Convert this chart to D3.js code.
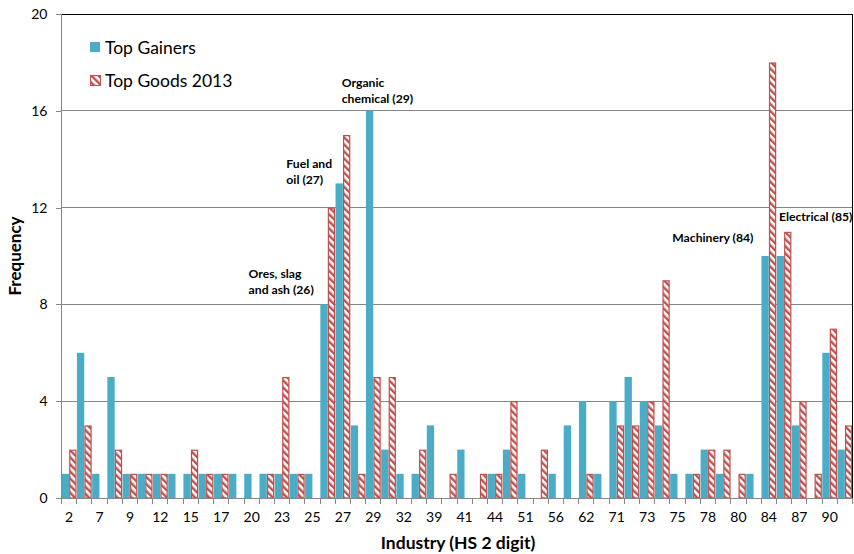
<!DOCTYPE html>
<html><head><meta charset="utf-8">
<script src="https://cdn.jsdelivr.net/npm/d3@7/dist/d3.min.js"></script>
<style>
body{margin:0;background:#fff;}
text{font-family:Lato, "Liberation Sans", sans-serif;}
</style></head>
<body><svg id="c" width="854" height="554"></svg>
<script>
const categories = ["2","3","7","8","9","10","12","13","15","16","17","18","20","22","23","24","25","26","27","28","29","30","32","33","39","40","41","42","44","47","51","52","56","61","62","64","71","72","73","74","75","76","78","79","80","83","84","85","87","89","90","94"];
const topGainers = [1,6,1,5,1,1,1,1,1,1,1,1,1,1,1,1,1,8,13,3,16,2,1,1,3,0,2,0,1,2,1,0,1,3,4,1,4,5,4,3,1,1,2,1,0,1,10,10,3,0,6,2];
const topGoods2013 = [2,3,0,2,1,1,1,0,2,1,1,0,0,1,5,1,0,12,15,1,5,5,0,2,0,1,0,1,1,4,0,2,0,0,1,0,3,3,4,9,0,1,2,2,1,0,18,11,4,1,7,3];
const yTicks = [0,4,8,12,16,20];
const seriesNames = ["Top Gainers","Top Goods 2013"];
const annotations = [
  {cat:"26", lines:["Ores, slag","and ash (26)"]},
  {cat:"27", lines:["Fuel and","oil (27)"]},
  {cat:"29", lines:["Organic","chemical (29)"]},
  {cat:"84", lines:["Machinery (84)"]},
  {cat:"85", lines:["Electrical (85)"]}
];

const svg = d3.select("#c");
const L=61.5, R=852.5, T=14, B=498;
const blue="#4BACC6", red="#C0504D";

const defs = svg.append("defs");
const pat = defs.append("pattern").attr("id","hatch").attr("patternUnits","userSpaceOnUse")
  .attr("width",5).attr("height",5).attr("patternTransform","rotate(-45)");
pat.append("rect").attr("width",5).attr("height",5).attr("fill","#fff");
pat.append("rect").attr("x",0).attr("y",0).attr("width",2.4).attr("height",5).attr("fill",red);

const x = d3.scaleBand().domain(categories).range([L,R]).paddingInner(0).paddingOuter(0);
const x1 = d3.scaleBand().domain(["g","t"]).range([0,x.bandwidth()]).paddingInner(0.02).paddingOuter(0.03);
const y = d3.scaleLinear().domain([0,20]).range([B,T]);

// gridlines
svg.append("g").selectAll("line").data(yTicks.filter(v=>v>0 && v<20)).join("line")
  .attr("x1",L).attr("x2",R).attr("y1",d=>y(d)).attr("y2",d=>y(d))
  .attr("stroke","#868686").attr("stroke-width",1).attr("shape-rendering","crispEdges");

// bars
const data = categories.map((c,i)=>({c,g:topGainers[i],t:topGoods2013[i]}));
svg.append("g").selectAll("rect").data(data.filter(d=>d.g>0)).join("rect")
  .attr("x",d=>x(d.c)+x1("g")).attr("width",x1.bandwidth())
  .attr("y",d=>y(d.g)).attr("height",d=>B-y(d.g)).attr("fill",blue);
svg.append("g").selectAll("rect").data(data.filter(d=>d.t>0)).join("rect")
  .attr("x",d=>x(d.c)+x1("t")+0.6).attr("width",x1.bandwidth()-1.2)
  .attr("y",d=>y(d.t)+0.6).attr("height",d=>B-y(d.t)-0.6)
  .attr("fill","url(#hatch)").attr("stroke",red).attr("stroke-width",1.2);

// border top/right
svg.append("line").attr("x1",L).attr("x2",R).attr("y1",T).attr("y2",T).attr("stroke","#000").attr("stroke-width",1).attr("shape-rendering","crispEdges");
svg.append("line").attr("x1",R).attr("x2",R).attr("y1",T).attr("y2",B).attr("stroke","#000").attr("stroke-width",1).attr("shape-rendering","crispEdges");

// y axis
const ya = svg.append("g").attr("transform",`translate(${L},0)`)
  .call(d3.axisLeft(y).tickValues(yTicks).tickSize(6).tickPadding(8));
ya.select(".domain").attr("stroke","#868686").attr("d",`M-6,${T}H0V${B}`).attr("shape-rendering","crispEdges");
ya.selectAll(".tick line").attr("stroke","#868686").attr("shape-rendering","crispEdges");
ya.selectAll(".tick text").attr("font-size",14).attr("fill","#000").attr("font-family","Lato");

// x axis
const xa = svg.append("g").attr("transform",`translate(0,${B})`)
  .call(d3.axisBottom(x).tickValues(categories.filter((c,i)=>i%2===0)).tickSize(0).tickPadding(14));
xa.select(".domain").attr("stroke","#868686").attr("d",`M${L},0H${R}`).attr("shape-rendering","crispEdges");
xa.selectAll(".tick text").attr("font-size",14).attr("fill","#000").attr("font-family","Lato");
svg.append("g").selectAll("line").data(categories.concat(["end"])).join("line")
  .attr("x1",(d,i)=> i<categories.length ? x(d) : R).attr("x2",(d,i)=> i<categories.length ? x(d) : R)
  .attr("y1",B).attr("y2",B+6).attr("stroke","#868686").attr("shape-rendering","crispEdges");

// axis titles
svg.append("text").attr("x",458).attr("y",549).attr("text-anchor","middle")
  .attr("font-size",17.5).attr("font-weight","bold").text("Industry (HS 2 digit)");
svg.append("text").attr("transform","translate(21,256) rotate(-90)").attr("text-anchor","middle")
  .attr("font-size",17).attr("font-weight","bold").text("Frequency");

// legend
const leg = svg.append("g");
leg.append("rect").attr("x",90).attr("y",42).attr("width",10).attr("height",10).attr("fill",blue);
leg.append("rect").attr("x",90.5).attr("y",75.5).attr("width",10).attr("height",10).attr("fill","url(#hatch)").attr("stroke",red);
leg.append("text").attr("x",105).attr("y",54).attr("font-size",17.5).text(seriesNames[0]);
leg.append("text").attr("x",105).attr("y",87).attr("font-size",17.5).text(seriesNames[1]);

// annotations
const annPos = {
  "26":{dx:-71.5, y:278},
  "27":{dx:-49, y:168},
  "29":{dx:-24, y:87},
  "84":{dx:-89, y:242},
  "85":{dx:2.5, y:221}
};
annotations.forEach(a=>{
  const p = annPos[a.cat];
  const t = svg.append("text").attr("font-size",12.2).attr("font-weight","bold");
  a.lines.forEach((ln,i)=>{
    t.append("tspan").attr("x",x(a.cat)+p.dx).attr("y",p.y+i*15.5).text(ln);
  });
});
</script></body></html>
